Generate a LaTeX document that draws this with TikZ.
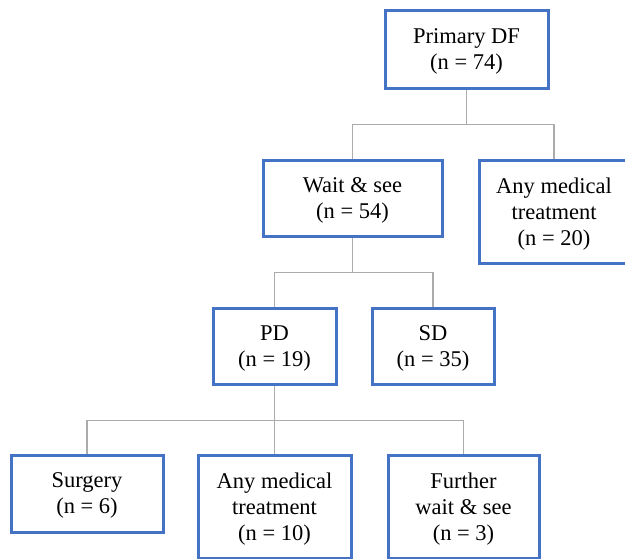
\documentclass[tikz,border=0pt]{standalone}
\usepackage{fontspec}
\setmainfont{Liberation Serif}
\usepackage{tikz}
\usetikzlibrary{positioning,calc}
\definecolor{boxblue}{HTML}{4472C4}
\definecolor{linegray}{HTML}{ABABAB}
\tikzset{
  box/.style={draw=boxblue,line width=3pt,fill=white,align=center,inner sep=2pt,
    text depth=-6pt,font=\fontsize{22.5}{26}\selectfont},
  conn/.style={draw=linegray,line width=1.6pt},
}

\begin{document}
\begin{tikzpicture}[x=1pt,y=-1pt]
\clip (0,0) rectangle (625,558);
\fill[white] (0,0) rectangle (625,558);

% top
\node[box,minimum width=163pt,minimum height=78pt] (prim) at (466.5,49) {Primary DF\\(n = 74)};

% second level
\node[box,minimum width=179pt,minimum height=76pt] (wait) at (352.5,198) {Wait \& see\\(n = 54)};
\node[box,minimum width=150pt,minimum height=103pt] (med1) at (554,211.5) {Any medical\\treatment\\(n = 20)};

% third level
\node[box,minimum width=123pt,minimum height=76pt] (pd) at (274.5,346) {PD\\(n = 19)};
\node[box,minimum width=122pt,minimum height=76pt] (sd) at (433,346) {SD\\(n = 35)};

% bottom level
\node[box,minimum width=152pt,minimum height=77pt] (surg) at (87,493.5) {Surgery\\(n = 6)};
\node[box,minimum width=153pt,minimum height=103pt] (med2) at (274.5,506.5) {Any medical\\treatment\\(n = 10)};
\node[box,minimum width=151pt,minimum height=103pt] (further) at (463.5,506.5) {Further\\wait \& see\\(n = 3)};

% connectors
\coordinate (j1) at ($(prim.south)+(0,35)$);
\coordinate (j2) at ($(wait.south)+(0,35)$);
\coordinate (j3) at ($(pd.south)+(0,35)$);
\draw[conn] (prim.south) -- (j1);
\draw[conn] (j1) -| (wait.north);
\draw[conn] (j1) -| (med1.north);
\draw[conn] (wait.south) -- (j2);
\draw[conn] (j2) -| (pd.north);
\draw[conn] (j2) -| (sd.north);
\draw[conn] (pd.south) -- (med2.north);
\draw[conn] (j3) -| (surg.north);
\draw[conn] (j3) -| (further.north);
\end{tikzpicture}
\end{document}
